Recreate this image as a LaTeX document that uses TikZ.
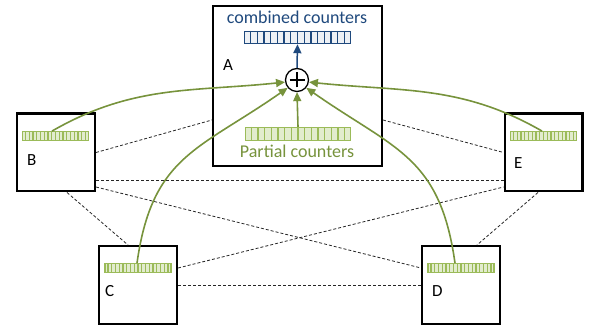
\documentclass[tikz,border=0pt]{standalone}
\usepackage{fontspec}
\setmainfont{Carlito}
\usepackage{xcolor}
\usepackage{tikz}
\usetikzlibrary{arrows.meta, positioning, calc}
\definecolor{olivegreen}{RGB}{119,147,60}
\definecolor{midolive}{RGB}{155,187,89}
\definecolor{paleolive}{RGB}{226,236,206}
\definecolor{darkblue}{RGB}{31,73,125}
\definecolor{paleblue}{RGB}{238,241,245}
\tikzset{
	peerbox/.style={draw, fill=white, line width=2.4pt, minimum width=77.6pt, minimum height=77.6pt, inner sep=0pt},
	cntsmall/.style={draw=midolive, fill=paleolive, line width=1.3pt, minimum width=66pt, minimum height=8.5pt, inner sep=0pt},
	cntpartial/.style={draw=midolive, fill=paleolive, line width=1.4pt, minimum width=105pt, minimum height=13pt, inner sep=0pt},
	cntcombined/.style={draw=darkblue, fill=paleblue, line width=1.4pt, minimum width=106pt, minimum height=12pt, inner sep=0pt},
	peerlabel/.style={anchor=base west, inner sep=0pt, font=\fontsize{17}{20}\selectfont},
	gossip/.style={dash pattern=on 3pt off 2pt, line width=0.8pt, black!85},
	flowarr/.style={olivegreen, line width=1.6pt, -{Triangle[length=9pt, width=8pt]}},
}
% dividers inside a counter array: node, number of cells, colour
\newcommand{\cellticks}[3]{%
	\pgfmathtruncatemacro\lastcell{#2-1}
	\foreach \i in {1,...,\lastcell}
		\draw[#3] ($(#1.north west)!{\i/#2}!(#1.north east)$) -- ($(#1.south west)!{\i/#2}!(#1.south east)$);
}

\begin{document}
\begin{tikzpicture}[x=1pt, y=1pt]
	\useasboundingbox (0,0) rectangle (589,331);
	% Five peers
	\node[peerbox, minimum width=168.6pt, minimum height=159.6pt] (nodeA) at (297.5,245) {};
	\node[peerbox] (nodeB) at (56,178.5) {};
	\node[peerbox] (nodeE) at (543.5,178.5) {};
	\node[peerbox] (nodeC) at (138,46) {};
	\node[peerbox] (nodeD) at (461,46) {};
	\node[peerlabel] (labA) at (223,260) {A};
	\node[peerlabel] (labB) at (27,165) {B};
	\node[peerlabel] (labE) at (514,162) {E};
	\node[peerlabel] (labC) at (105,34) {C};
	\node[peerlabel] (labD) at (432,34) {D};
	% Links between peers
	\draw[gossip] (nodeB.east) -- ([yshift=-34pt]nodeA.west);
	\draw[gossip] ([yshift=-34pt]nodeA.east) -- (nodeE.west);
	\draw[gossip] ([yshift=-27.5pt]nodeB.east) -- ([yshift=-27.5pt]nodeE.west);
	\draw[gossip] ([yshift=-34.5pt]nodeB.east) -- ([yshift=17pt]nodeD.west);
	\draw[gossip] ([yshift=17pt]nodeC.east) -- ([yshift=-34.5pt]nodeE.west);
	\draw[gossip] (nodeC.east) -- (nodeD.west);
	\draw[gossip] ([xshift=11pt]nodeB.south) -- ([xshift=-10pt]nodeC.north);
	\draw[gossip] ([xshift=-5.5pt]nodeE.south) -- ([xshift=16pt]nodeD.north);
	% Counter arrays
	\node[cntcombined] (cntAll) at (297.5,293.5) {};
	\cellticks{cntAll}{16}{darkblue, line width=1.2pt}
	\node[anchor=base, inner sep=0pt, text=darkblue, font=\fontsize{18}{21}\selectfont] (txtAll) at (297,307) {combined counters};
	\node[cntpartial] (cntA) at (298,197) {};
	\cellticks{cntA}{16}{midolive, line width=1.4pt}
	\node[anchor=base, inner sep=0pt, text=olivegreen, font=\fontsize{18}{21}\selectfont] (txtA) at (297,173) {Partial counters};
	\node[cntsmall] (cntB) at (55.5,195) {};
	\cellticks{cntB}{18}{midolive, line width=1.3pt}
	\node[cntsmall] (cntE) at (543.5,195) {};
	\cellticks{cntE}{18}{midolive, line width=1.3pt}
	\node[cntsmall] (cntC) at (138,63) {};
	\cellticks{cntC}{18}{midolive, line width=1.3pt}
	\node[cntsmall] (cntD) at (461,63) {};
	\cellticks{cntD}{18}{midolive, line width=1.3pt}
	% Sum
	\node[circle, draw, fill=white, line width=1.3pt, minimum size=23pt, inner sep=0pt] (plus) at (297,251) {};
	\draw[line width=1.4pt] ([xshift=-7.5pt]plus.center) -- ([xshift=7.5pt]plus.center);
	\draw[line width=1.4pt] ([yshift=-7.5pt]plus.center) -- ([yshift=7.5pt]plus.center);
	% Arrows
	\draw[flowarr] ([xshift=-3.5pt]cntB.north) to[out=30, in=186] (plus.190);
	\draw[flowarr] ([xshift=-1.5pt]cntE.north) to[out=150, in=-6] (plus.350);
	\draw[flowarr] ([xshift=-1pt]cntC.north) to[out=82, in=215, looseness=1.2] (plus.220);
	\draw[flowarr] ([xshift=-6pt]cntD.north) to[out=98, in=-35, looseness=1.2] (plus.320);
	\draw[flowarr] (cntA.north) -- (plus.south);
	\draw[darkblue, line width=1.5pt, -{Triangle[length=9pt, width=8pt]}] (plus.north) -- (cntAll.south);
\end{tikzpicture}
\end{document}
